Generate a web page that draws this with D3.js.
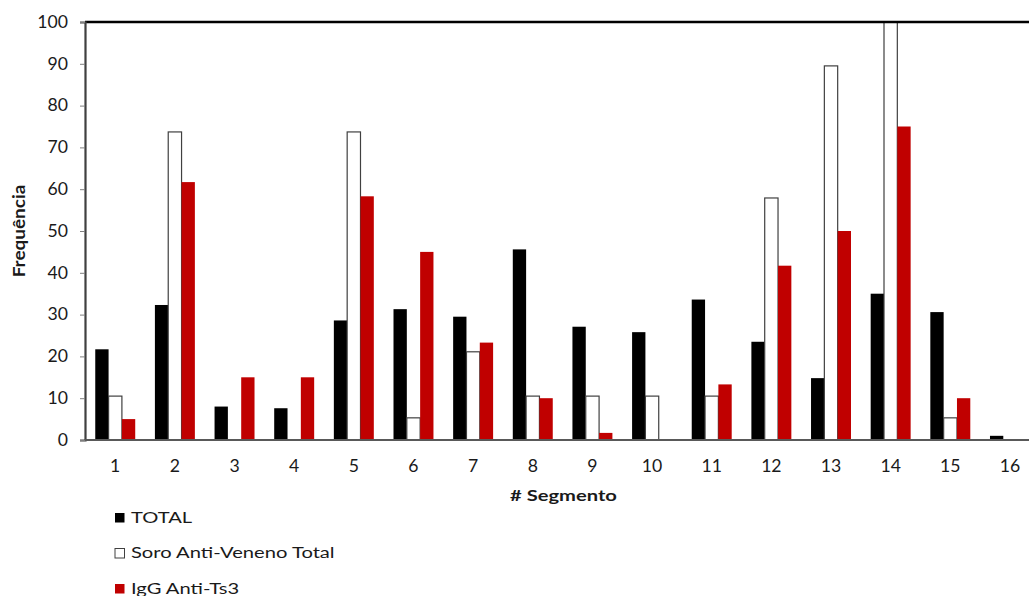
<!DOCTYPE html>
<html>
<head>
<meta charset="utf-8">
<script src="https://cdn.jsdelivr.net/npm/d3@7"></script>
<style>
  html, body { margin: 0; padding: 0; background: #fff; }
  svg { display: block; }
  text { font-family: Lato, "Noto Sans", sans-serif; fill: #1a1a1a; }
</style>
</head>
<body>
<svg id="chart" width="1029" height="596"></svg>
<script>
// Segments along the x axis
const segments = ["1","2","3","4","5","6","7","8","9","10","11","12","13","14","15","16"];

// Frequency (%) per segment for each group
const total      = [21.7, 32.3, 8.0, 7.6, 28.6, 31.3, 29.5, 45.6, 27.1, 25.8, 33.6, 23.5, 14.8, 35.0, 30.6, 1.0];
const soroTotal  = [10.5, 73.7, 0, 0, 73.7, 5.3, 21.1, 10.5, 10.5, 10.5, 10.5, 57.9, 89.5, 100, 5.3, 0];
const iggAntiTs3 = [5.0, 61.7, 15.0, 15.0, 58.3, 45.0, 23.3, 10.0, 1.7, 0, 13.3, 41.7, 50.0, 75.0, 10.0, 0];

const seriesNames  = ["TOTAL", "Soro Anti-Veneno Total", "IgG Anti-Ts3"];
const seriesValues = [total, soroTotal, iggAntiTs3];
const yTicks = [0, 10, 20, 30, 40, 50, 60, 70, 80, 90, 100];

const fills   = ["#000000", "#ffffff", "#c00000"];
const strokes = ["none", "#404040", "none"];

const svg = d3.select("#chart");
const W = 1029, H = 596;
svg.append("rect").attr("width", W).attr("height", H).attr("fill", "#fff");

const plotLeft = 85, plotTop = 22, plotBottom = 440, plotRight = 1040.2;
const FS = 16.5;       // base font size
const TX_NUM = 1.07;   // horizontal stretch for tick numbers
const TX_TXT = 1.26;   // horizontal stretch for words

const x = d3.scaleBand().domain(segments).range([plotLeft, plotRight])
  .paddingInner(0.33).paddingOuter(0.172);
const xs = d3.scaleBand().domain(d3.range(3)).range([0, x.bandwidth()]);
const y = d3.scaleLinear().domain([0, 100]).range([plotBottom, plotTop]);

// bars
const groups = svg.append("g").selectAll("g")
  .data(segments).join("g")
  .attr("transform", d => `translate(${x(d)},0)`);

groups.selectAll("rect")
  .data((d, i) => seriesValues.map((s, k) => ({ k, v: s[i] })).filter(e => e.v > 0))
  .join("rect")
  .attr("x", d => xs(d.k))
  .attr("width", xs.bandwidth())
  .attr("y", d => y(d.v))
  .attr("height", d => y(0) - y(d.v))
  .attr("fill", d => fills[d.k])
  .attr("stroke", d => strokes[d.k])
  .attr("stroke-width", 1.2);

// top border of plot area
svg.append("line")
  .attr("x1", plotLeft).attr("x2", W)
  .attr("y1", y(100)).attr("y2", y(100))
  .attr("stroke", "#000").attr("stroke-width", 2.5);

// y axis
const yAxis = svg.append("g")
  .attr("transform", `translate(${plotLeft},0)`)
  .call(d3.axisLeft(y).tickValues(yTicks).tickSize(5).tickPadding(12));
yAxis.select(".domain").attr("stroke", "#404040").attr("stroke-width", 2.2);
yAxis.selectAll(".tick line").attr("stroke", "#7f7f7f").attr("stroke-width", 1);
yAxis.selectAll(".tick text")
  .attr("font-size", FS).attr("font-family", "Lato")
  .attr("x", -17 / TX_NUM)
  .attr("transform", `scale(${TX_NUM},1)`)
  .attr("fill", "#1a1a1a");

// x axis
const xAxis = svg.append("g")
  .attr("transform", `translate(0,${plotBottom})`)
  .call(d3.axisBottom(x).tickSize(0).tickPadding(20.5));
xAxis.select(".domain").attr("stroke", "#595959").attr("stroke-width", 2.2)
  .attr("d", `M${plotLeft},0H${W}`);
xAxis.selectAll(".tick text")
  .attr("font-size", FS).attr("font-family", "Lato")
  .attr("transform", `scale(${TX_NUM},1)`)
  .attr("fill", "#1a1a1a");

// axis titles
svg.append("text")
  .attr("transform", `translate(${(plotLeft + 1042) / 2},501) scale(${TX_TXT},1)`)
  .attr("text-anchor", "middle")
  .attr("font-size", 16).attr("font-weight", "bold")
  .text("# Segmento");

svg.append("text")
  .attr("transform", `translate(25,${(plotTop + plotBottom) / 2}) rotate(-90) scale(1.15,1)`)
  .attr("text-anchor", "middle")
  .attr("font-size", FS).attr("font-weight", "bold")
  .text("Frequência");

// legend
const legend = svg.append("g").selectAll("g")
  .data(seriesNames).join("g")
  .attr("transform", (d, i) => `translate(114,${522.5 + i * 35.5})`);
legend.append("rect")
  .attr("x", 1).attr("y", -9.5).attr("width", 9.5).attr("height", 9.5)
  .attr("fill", (d, i) => fills[i])
  .attr("stroke", (d, i) => i === 1 ? "#404040" : "none")
  .attr("stroke-width", 1);
legend.append("text")
  .attr("transform", `translate(17,0) scale(${TX_TXT},1)`)
  .attr("font-size", 16)
  .text(d => d);
</script>
</body>
</html>
